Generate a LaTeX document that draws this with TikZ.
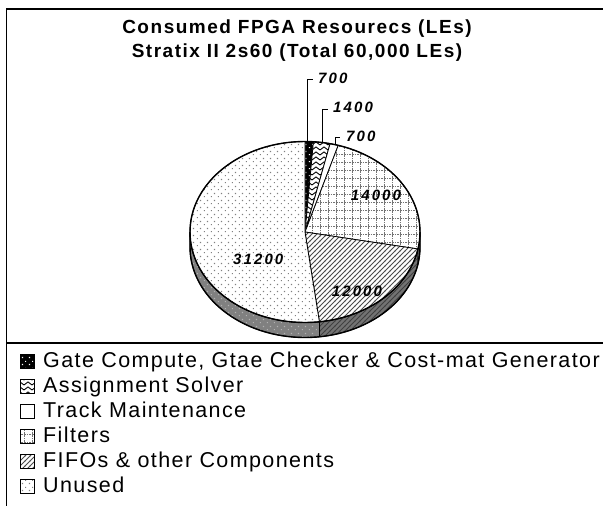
\documentclass[tikz,border=0pt]{standalone}
\usepackage{fontspec}
\setmainfont{Liberation Sans}
\newfontfamily\legfont{Liberation Sans}[LetterSpace=6.5]
\newfontfamily\titfont{Liberation Sans}[LetterSpace=8]
\newfontfamily\numfont{Liberation Sans}[LetterSpace=14]
\usetikzlibrary{patterns}

\pgfdeclarepatternformonly{udots}{\pgfpointorigin}{\pgfpoint{7pt}{7pt}}{\pgfpoint{7pt}{7pt}}{%
  \pgfpathrectangle{\pgfpoint{1pt}{1pt}}{\pgfpoint{1.2pt}{1.2pt}}%
  \pgfpathrectangle{\pgfpoint{4.5pt}{4.5pt}}{\pgfpoint{1.2pt}{1.2pt}}%
  \pgfusepath{fill}}
\pgfdeclarepatternformonly{zigz}{\pgfpoint{-0.5pt}{-0.5pt}}{\pgfpoint{8.5pt}{5.5pt}}{\pgfpoint{8pt}{5pt}}{%
  \pgfsetlinewidth{0.9pt}%
  \pgfpathmoveto{\pgfpoint{0pt}{1pt}}%
  \pgfpathlineto{\pgfpoint{4pt}{4pt}}%
  \pgfpathlineto{\pgfpoint{8pt}{1pt}}%
  \pgfusepath{stroke}}
\pgfdeclarepatternformonly{fgrid}{\pgfpoint{-0.5pt}{-0.5pt}}{\pgfpoint{8.5pt}{8.5pt}}{\pgfpoint{8pt}{8pt}}{%
  \pgfsetlinewidth{0.5pt}%
  \pgfsetdash{{1.5pt}{1pt}}{0pt}%
  \pgfpathmoveto{\pgfpoint{0pt}{0pt}}\pgfpathlineto{\pgfpoint{8pt}{0pt}}%
  \pgfpathmoveto{\pgfpoint{0pt}{0pt}}\pgfpathlineto{\pgfpoint{0pt}{8pt}}%
  \pgfusepath{stroke}}
\pgfdeclarepatternformonly{fhatch}{\pgfpoint{-0.5pt}{-0.5pt}}{\pgfpoint{5.5pt}{5.5pt}}{\pgfpoint{5pt}{5pt}}{%
  \pgfsetlinewidth{1pt}%
  \pgfpathmoveto{\pgfpoint{-0.2pt}{-0.2pt}}\pgfpathlineto{\pgfpoint{5.2pt}{5.2pt}}%
  \pgfusepath{stroke}}

\newcommand\myslice[3]{\path[#3] (C) -- ++(#1:115pt and 90.5pt) arc[start angle=#1,end angle=#2,x radius=115pt,y radius=90.5pt] -- cycle;}
\newcommand\myside[3]{\path[#3] (C) ++(#1:115pt and 90.5pt) arc[start angle=#1,end angle=#2,x radius=115pt,y radius=90.5pt] -- ++(0,-15) arc[start angle=#2,end angle=#1,x radius=115pt,y radius=90.5pt] -- cycle;}

\begin{document}
\begin{tikzpicture}[x=1pt,y=1pt,
  frame/.style={line width=1.3pt},
  lead/.style={line width=0.8pt},
  sl/.style={draw=black,line width=0.8pt},
  gatefill/.style={preaction={fill=black},pattern=udots,pattern color=white},
  asgfill/.style={preaction={fill=white},pattern=zigz,pattern color=black},
  trkfill/.style={fill=white},
  filfill/.style={preaction={fill=white},pattern=fgrid,pattern color=black!55},
  fifofill/.style={preaction={fill=white},pattern=fhatch,pattern color=black!70},
  unufill/.style={preaction={fill=white},pattern=udots,pattern color=black!50},
  sideunu/.style={preaction={fill=black!50},pattern=udots,pattern color=black!30},
  sidefifo/.style={preaction={fill=black!55},pattern=fhatch,pattern color=black!75},
  sidefil/.style={fill=black!50},
  numlab/.style={font=\numfont\bfseries\itshape\fontsize{15}{17}\selectfont,inner sep=0pt,anchor=base west},
  titlab/.style={font=\titfont\bfseries\fontsize{19}{22}\selectfont,inner sep=0pt,anchor=base},
  legtext/.style={font=\legfont\fontsize{21.5}{24}\selectfont,inner sep=0pt,anchor=base west},
  legbox/.style={draw=black,line width=0.7pt,minimum size=14pt,inner sep=0pt}]
\useasboundingbox (0,0) rectangle (603,-506);
\fill[white] (0,0) rectangle (603,-506);
% frame
\draw[frame] (603,-9) -- (6.5,-9) -- (6.5,-506);
\draw[frame] (6.5,-343) -- (603,-343);
% titles
\node[titlab] (tA) at (297,-33) {Consumed FPGA Resourecs (LEs)};
\node[titlab] (tB) at (297,-57) {Stratix II 2s60 (Total 60,000 LEs)};
% pie
\coordinate (C) at (305,-232);
\myside{180}{277.2}{sl,sideunu}
\myside{277.2}{349.2}{sl,sidefifo}
\myside{349.2}{360}{sl,sidefil}
\myslice{90}{85.8}{sl,gatefill}
\myslice{85.8}{77.4}{sl,asgfill}
\myslice{77.4}{73.2}{sl,trkfill}
\myslice{73.2}{-10.8}{sl,filfill}
\myslice{-10.8}{-82.8}{sl,fifofill}
\myslice{-82.8}{-270}{sl,unufill}
\draw[line width=1.4pt] (C) ellipse[x radius=115pt,y radius=90.5pt];
\draw[line width=1.4pt] (C) ++(180:115pt and 90.5pt) -- ++(0,-15) arc[start angle=180,end angle=360,x radius=115pt,y radius=90.5pt] -- ++(0,15);
% labels
\node[numlab] (n1) at (318,-83.3) {700};
\node[numlab] (n2) at (333,-112.7) {1400};
\node[numlab] (n3) at (346,-141.7) {700};
\node[numlab] (n4) at (350.7,-200.7) {14000};
\node[numlab] (n5) at (233,-264) {31200};
\node[numlab] (n6) at (331.7,-296.7) {12000};
% leaders
\coordinate (e1) at (307,-141.5);
\coordinate (k1) at (313,-79);
\coordinate (e2) at (322.7,-142.6);
\coordinate (k2) at (327.5,-109.3);
\coordinate (e3) at (335,-144);
\coordinate (k3) at (340,-137.7);
\draw[lead] (e1) |- (k1);
\draw[lead] (e2) |- (k2);
\draw[lead] (e3) |- (k3);
% legend
\node[legbox,gatefill] (b1) at (27.8,-361) {};
\node[legbox,asgfill]  (b2) at (27.8,-386) {};
\node[legbox,trkfill]  (b3) at (27.8,-411) {};
\node[legbox,filfill]  (b4) at (27.8,-436) {};
\node[legbox,fifofill] (b5) at (27.8,-461) {};
\node[legbox,unufill]  (b6) at (27.8,-486) {};
\node[legtext] (g1) at (43,-367.7) {Gate Compute, Gtae Checker \& Cost-mat Generator};
\node[legtext] (g2) at (43,-392.7) {Assignment Solver};
\node[legtext] (g3) at (43,-417.7) {Track Maintenance};
\node[legtext] (g4) at (43,-442.7) {Filters};
\node[legtext] (g5) at (43,-467.7) {FIFOs \& other Components};
\node[legtext] (g6) at (43,-492.7) {Unused};
\end{tikzpicture}
\end{document}
